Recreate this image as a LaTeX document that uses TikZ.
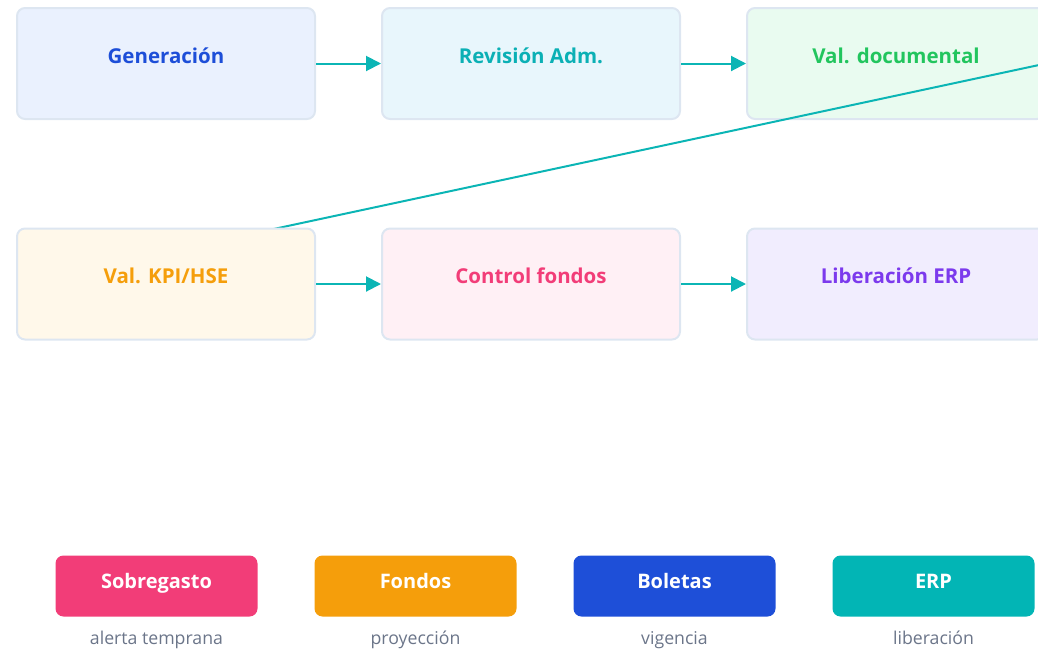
\documentclass[tikz,border=0pt]{standalone}
\usepackage{fontspec}
\setmainfont{Open Sans}
\usetikzlibrary{arrows.meta}
\definecolor{bordc}{HTML}{DDE6F1}
\definecolor{tealc}{HTML}{0BB5B5}
\definecolor{fillA}{HTML}{EAF1FE}
\definecolor{fillB}{HTML}{E8F6FC}
\definecolor{fillC}{HTML}{E9FBF0}
\definecolor{fillD}{HTML}{FFF8EA}
\definecolor{fillE}{HTML}{FFF0F5}
\definecolor{fillF}{HTML}{F1EDFE}
\definecolor{txA}{HTML}{1D4ED8}
\definecolor{txB}{HTML}{0BB0B5}
\definecolor{txC}{HTML}{22C55E}
\definecolor{txD}{HTML}{F59E0B}
\definecolor{txE}{HTML}{F23D78}
\definecolor{txF}{HTML}{7C3AED}
\definecolor{pinkc}{HTML}{F23D78}
\definecolor{orangec}{HTML}{F59E0B}
\definecolor{bluec}{HTML}{1E4FD8}
\definecolor{pillteal}{HTML}{02B5B5}
\definecolor{grayc}{HTML}{6B7589}
\tikzset{
  stepbox/.style={draw=bordc, line width=2pt, rounded corners=8pt, minimum width=298pt, minimum height=111pt, inner sep=0pt},
  btext/.style={anchor=base, inner sep=0pt, font=\fontsize{20.5}{25}\selectfont\bfseries},
  pill/.style={rounded corners=8pt, minimum width=202pt, minimum height=61pt, inner sep=0pt},
  ptext/.style={anchor=base, inner sep=0pt, text=white, font=\fontsize{20}{24}\selectfont\bfseries},
  sublab/.style={anchor=base, inner sep=0pt, text=grayc, font=\fontsize{17.7}{21}\selectfont},
  flow/.style={draw=tealc, line width=2pt, -{Triangle[length=15pt,width=15pt]}}
}
\begin{document}
\begin{tikzpicture}[x=1pt,y=-1pt]
\useasboundingbox (0,0) rectangle (1038,649);
\clip (0,0) rectangle (1038,649);
% positions
\coordinate (c1) at (166,63.5);
\coordinate (c2) at (531,63.5);
\coordinate (c3) at (896,63.5);
\coordinate (c4) at (166,284);
\coordinate (c5) at (531,284);
\coordinate (c6) at (896,284);
% first row
\node[stepbox, fill=fillA] (b1) at (c1) {};
\node[stepbox, fill=fillB] (b2) at (c2) {};
\node[stepbox, fill=fillC] (b3) at (c3) {};
% diagonal connector (over row 1, beneath row 2)
\path (c4) ++(-149,0) coordinate (b4w);
\draw[flow] (b3.east) -- (b4w);
% second row
\node[stepbox, fill=fillD] (b4) at (c4) {};
\node[stepbox, fill=fillE] (b5) at (c5) {};
\node[stepbox, fill=fillF] (b6) at (c6) {};
\node[btext, text=txA] (t1) at ([yshift=-0.3pt]b1.center) {Generación};
\node[btext, text=txB] (t2) at ([yshift=-0.3pt]b2.center) {Revisión Adm.};
\node[btext, text=txC] (t3) at ([yshift=-0.3pt]b3.center) {Val. documental};
\node[btext, text=txD] (t4) at ([yshift=1pt]b4.center) {Val. KPI/HSE};
\node[btext, text=txE] (t5) at ([yshift=1pt]b5.center) {Control fondos};
\node[btext, text=txF] (t6) at ([yshift=1pt]b6.center) {Liberación ERP};
% arrows
\draw[flow] (b1.east) -- (b2.west);
\draw[flow] (b2.east) -- (b3.west);
\draw[flow] (b4.east) -- (b5.west);
\draw[flow] (b5.east) -- (b6.west);
% legend
\node[pill, fill=pinkc] (p1) at (156.5,586) {};
\node[pill, fill=orangec] (p2) at (415.5,586) {};
\node[pill, fill=bluec] (p3) at (674.5,586) {};
\node[pill, fill=pillteal] (p4) at (933.5,586) {};
\node[ptext] (pt1) at (156.5,588) {Sobregasto};
\node[ptext] (pt2) at (415.5,588) {Fondos};
\node[ptext] (pt3) at (674.5,588) {Boletas};
\node[ptext] (pt4) at (933.5,588) {ERP};
\node[sublab] (s1) at (156.5,644.5) {alerta temprana};
\node[sublab] (s2) at (415.5,644.5) {proyección};
\node[sublab] (s3) at (674.5,644.5) {vigencia};
\node[sublab] (s4) at (933.5,644.5) {liberación};
\end{tikzpicture}
\end{document}
